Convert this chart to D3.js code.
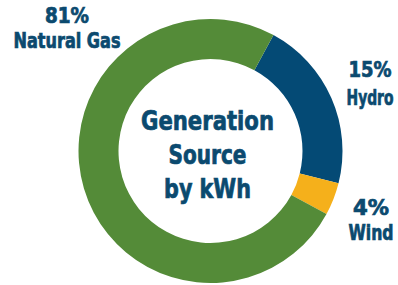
<!DOCTYPE html>
<html><head><meta charset="utf-8">
<script src="https://cdn.jsdelivr.net/npm/d3@7"></script>
<style>
html,body{margin:0;padding:0;background:#fff;}
text{font-family:"DejaVu Sans Condensed","DejaVu Sans",sans-serif;font-weight:bold;fill:#0b4a6f;stroke:#0b4a6f;stroke-width:0.7px;}
</style></head><body>
<svg id="chart" width="398" height="285"></svg>
<script>
const categories = ["Hydro", "Wind", "Natural Gas"];
const shareLabels = ["15%", "4%", "81%"];
// arc shares as drawn in the picture (percent of the ring)
const arcValues = [21, 4, 75];
const colors = ["#044a75", "#f5b01b", "#548b38"];
const centerLines = ["Generation", "Source", "by kWh"];

const svg = d3.select("#chart");
const cx = 210.5, cy = 151, rOuter = 132, rInner = 92;
const g = svg.append("g").attr("transform", `translate(${cx},${cy})`);

const startDeg = 28.5;
const pie = d3.pie().sort(null).value(d => d)
  .startAngle(startDeg * Math.PI / 180)
  .endAngle((startDeg + 360) * Math.PI / 180);
const arc = d3.arc().innerRadius(rInner).outerRadius(rOuter);

g.selectAll("path").data(pie(arcValues)).join("path")
  .attr("d", arc).attr("fill", (d, i) => colors[i]);

// place a line of text centred at (x, y) and squeezed horizontally to width w
function line(parent, txt, x, y, size, w) {
  const s = parent.append("text").attr("text-anchor", "middle")
    .style("font-size", size + "px").text(txt);
  const len = s.node().getComputedTextLength() || w;
  const sx = w / len;
  s.attr("transform", `translate(${x},${y}) scale(${sx},1)`);
  return s;
}

const centerWidths = [133, 78, 87];
centerLines.forEach((t, i) => {
  line(g, t, -3, -21 + i * 34, 27, centerWidths[i]);
});

const labelPos = [[370, 77, 105], [371, 215, 240], [67, 23, 48]];
const labelWidths = [[43, 47], [36, 45], [44, 107]];
categories.forEach((c, i) => {
  line(svg, shareLabels[i], labelPos[i][0], labelPos[i][1], 21, labelWidths[i][0]);
  line(svg, c, labelPos[i][0], labelPos[i][2], 21, labelWidths[i][1]);
});
</script></body></html>
